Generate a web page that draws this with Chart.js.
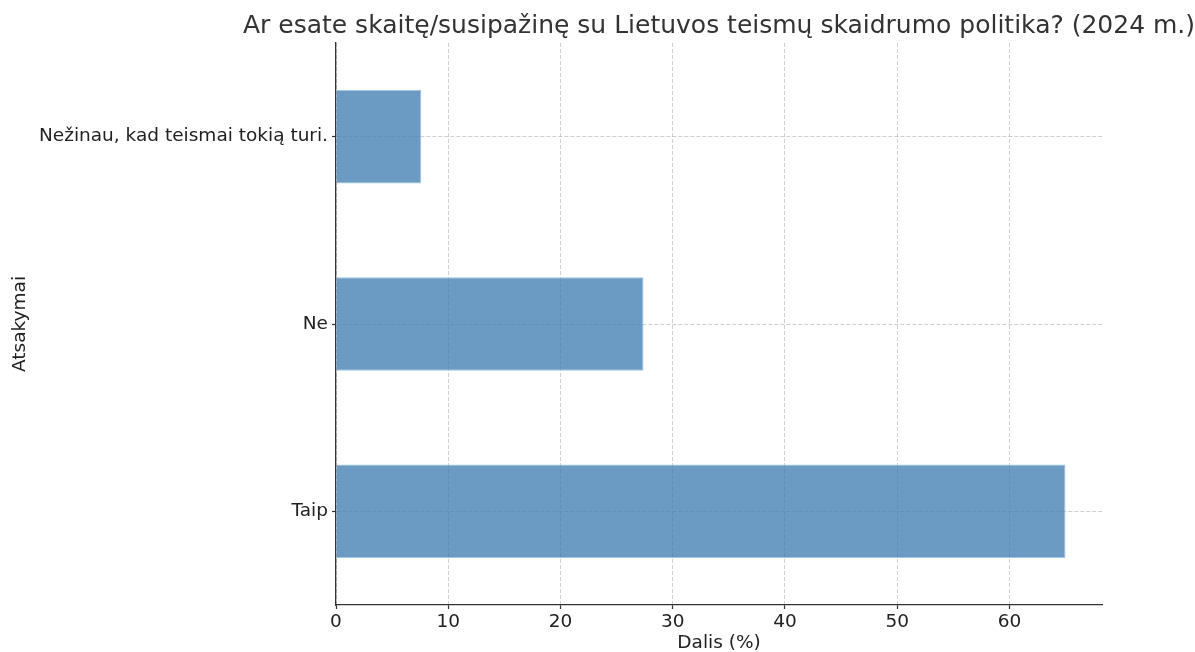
<!DOCTYPE html>
<html>
<head>
<meta charset="utf-8">
<script src="https://cdn.jsdelivr.net/npm/chart.js@4"></script>
<style>
  body { margin: 0; background: #fff; }
  #wrap { width: 1195px; height: 652px; }
</style>
</head>
<body>
<div id="wrap"><canvas id="surveyChart" width="1195" height="652"></canvas></div>
<script>
const categories = ['Nežinau, kad teismai tokią turi.', 'Ne', 'Taip'];
const shares = [7.6, 27.4, 65.0];
const xTicks = [0, 10, 20, 30, 40, 50, 60];
const chartTitle = 'Ar esate skaitę/susipažinę su Lietuvos teismų skaidrumo politika? (2024 m.)';

const FONT = "'DejaVu Sans', sans-serif";

// title centred over the plot area, like matplotlib does
const titlePlugin = {
    id: 'plotTitle',
    afterDraw(chart) {
        const { ctx, chartArea } = chart;
        ctx.save();
        ctx.font = '25px ' + FONT;
        ctx.fillStyle = '#333333';
        ctx.textAlign = 'center';
        ctx.textBaseline = 'middle';
        ctx.fillText(chartTitle, (chartArea.left + chartArea.right) / 2, 26);
        ctx.restore();
    }
};

const gridOpts = {
    offset: false,
    color: 'rgba(176,176,176,0.6)',
    tickColor: '#333',
    tickLength: 4,
    tickBorderDash: [],
    tickWidth: 1.2
};

new Chart(document.getElementById('surveyChart').getContext('2d'), {
    type: 'bar',
    data: {
        labels: categories,
        datasets: [{
            data: shares,
            backgroundColor: 'rgba(70, 130, 180, 0.8)',
            borderColor: 'rgba(165, 198, 228, 1)',
            borderWidth: 1,
            borderSkipped: 'left',
            barPercentage: 0.5,
            categoryPercentage: 1.0
        }]
    },
    options: {
        indexAxis: 'y',
        responsive: false,
        animation: false,
        layout: { padding: { top: 43, right: 93, left: 9, bottom: 0 } },
        plugins: {
            legend: { display: false },
            tooltip: { enabled: false }
        },
        scales: {
            x: {
                min: 0,
                max: 68.25,
                afterBuildTicks: (scale) => { scale.ticks = xTicks.map(v => ({ value: v })); },
                afterFit: (scale) => { scale.height = 47; },
                ticks: { color: '#222', font: { family: FONT, size: 18.5 }, padding: 2 },
                grid: gridOpts,
                border: { display: true, color: '#333', width: 1.3, dash: [4, 2] },
                title: {
                    display: true,
                    text: 'Dalis (%)',
                    color: '#222',
                    font: { family: FONT, size: 18.5 },
                    padding: { top: 0, bottom: -2 }
                }
            },
            y: {
                afterFit: (scale) => { scale.width = 327; },
                ticks: { color: '#222', font: { family: FONT, size: 18.5 }, padding: 4 },
                grid: gridOpts,
                border: { display: true, color: '#333', width: 1.3, dash: [4, 2] },
                title: {
                    display: true,
                    text: 'Atsakymai',
                    color: '#222',
                    font: { family: FONT, size: 18.5 },
                    padding: { top: 0, bottom: 0 }
                }
            }
        }
    },
    plugins: [titlePlugin]
});
</script>
</body>
</html>
